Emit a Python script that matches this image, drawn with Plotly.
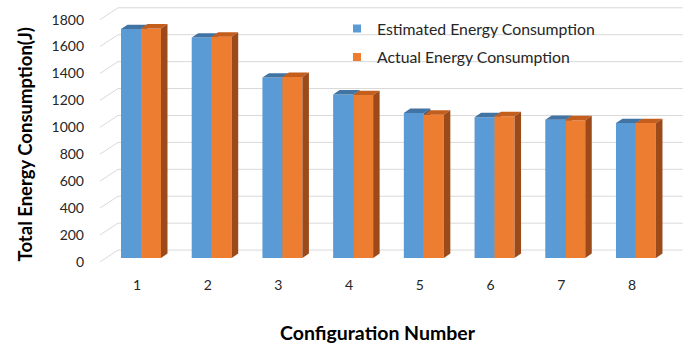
import plotly.graph_objects as go

# ---- data -------------------------------------------------------------
configs = ["1", "2", "3", "4", "5", "6", "7", "8"]
estimated = [1700, 1637, 1340, 1215, 1077, 1045, 1026, 1002]
actual = [1705, 1644, 1345, 1210, 1064, 1053, 1023, 1002]
y_ticks = [0, 200, 400, 600, 800, 1000, 1200, 1400, 1600, 1800]

series_names = ["Estimated Energy Consumption", "Actual Energy Consumption"]

# ---- page geometry (pixels) ----------------------------------------------
W, H = 691, 346
PX_LEFT, PX_RIGHT = 95, 690          # horizontal extent of the plotting plane
PY_TOP, PY_BOTTOM = 1, 268           # vertical extent of the plotting plane
FIRST_CENTER, PITCH = 141, 70.71     # pixel centre of group 1, spacing of groups
Y_ZERO_PX = 262.5                    # pixel row of value 0 on the bar plane
UNITS_PER_PX = 7.3                   # value units per vertical pixel

# pseudo-3D depth: bar thickness, and wall / floor offsets of the gridlines
BAR_PX = 20
DEPTH_DX_PX, DEPTH_DY_PX = 6.5, 4.5
FLOOR_FRONT_X, FLOOR_FRONT_DY = 100, -4
WALL_LEFT_X, WALL_RIGHT_X, WALL_DY = 118, 682.7, 8

FONT = "Lato"

BLUE, BLUE_TOP, BLUE_SIDE = "#5B9BD5", "#4274A3", "#38628A"
ORANGE, ORANGE_TOP, ORANGE_SIDE = "#ED7D31", "#C45E1C", "#9C4A1A"


def px_to_x(px):
    return 1 + (px - FIRST_CENTER) / PITCH


def dpx_to_y(dpx):
    return dpx * UNITS_PER_PX


x_range = [px_to_x(PX_LEFT), px_to_x(PX_RIGHT)]
y_range = [-dpx_to_y(PY_BOTTOM - Y_ZERO_PX), dpx_to_y(Y_ZERO_PX - PY_TOP)]
x_domain = [PX_LEFT / W, PX_RIGHT / W]
y_domain = [1 - PY_BOTTOM / H, 1 - PY_TOP / H]

bar_w = BAR_PX / PITCH
dx = DEPTH_DX_PX / PITCH
dy = dpx_to_y(DEPTH_DY_PX)
positions = [i + 1 for i in range(len(configs))]


def faces(values, offset):
    """Polygons for the top and right-hand faces of each bar."""
    tx, ty, sx, sy = [], [], [], []
    for c, v in zip(positions, values):
        xl = c + offset
        xr = xl + bar_w
        tx += [xl, xl + dx, xr + dx, xr, xl, None]
        ty += [v, v + dy, v + dy, v, v, None]
        sx += [xr, xr + dx, xr + dx, xr, xr, None]
        sy += [0, dy, v + dy, v, 0, None]
    return tx, ty, sx, sy


fig = go.Figure()

layers = [
    (estimated, -bar_w, "y", BLUE, BLUE_TOP, BLUE_SIDE),
    (actual, 0.0, "y2", ORANGE, ORANGE_TOP, ORANGE_SIDE),
]
for values, offset, yref, front, top, side in layers:
    fig.add_trace(go.Bar(
        x=positions, y=values, width=bar_w, offset=offset,
        marker=dict(color=front, line=dict(width=0)),
        yaxis=yref, showlegend=False, hoverinfo="skip",
    ))
    tx, ty, sx, sy = faces(values, offset)
    fig.add_trace(go.Scatter(x=tx, y=ty, fill="toself", fillcolor=top,
                             mode="none", yaxis=yref, showlegend=False,
                             hoverinfo="skip"))
    fig.add_trace(go.Scatter(x=sx, y=sy, fill="toself", fillcolor=side,
                             mode="none", yaxis=yref, showlegend=False,
                             hoverinfo="skip"))

# legend keys
for name, color in zip(series_names, [BLUE, ORANGE]):
    fig.add_trace(go.Scatter(
        x=[None], y=[None], mode="markers", name=name, legendgroup=name,
        marker=dict(symbol="square", size=8, color=color),
    ))

# back-wall gridlines with their slanted floor segments
for v in y_ticks:
    x0, y0 = px_to_x(FLOOR_FRONT_X), v + dpx_to_y(FLOOR_FRONT_DY)
    x1, y1 = px_to_x(WALL_LEFT_X), v + dpx_to_y(WALL_DY)
    x2 = px_to_x(WALL_RIGHT_X)
    fig.add_shape(type="path", xref="x", yref="y", layer="below",
                  path=f"M {x0},{y0} L {x1},{y1} L {x2},{y1}",
                  line=dict(color="#D9D9D9", width=1))

fig.add_annotation(text="<b>Total Energy Consumption(J)</b>", textangle=-90,
                   x=25 / W, y=1 - 147 / H, xref="paper", yref="paper",
                   xanchor="center", yanchor="middle",
                   showarrow=False, font=dict(family=FONT, size=18.5, color="#000000"))
fig.add_annotation(text="<b>Configuration Number</b>",
                   x=378 / W, y=1 - 338 / H, xref="paper", yref="paper",
                   xanchor="center", yanchor="middle",
                   showarrow=False, font=dict(family=FONT, size=19.5, color="#000000"))

tick_font = dict(family=FONT, size=14, color="#262626")
fig.update_layout(
    width=W, height=H,
    margin=dict(l=0, r=0, t=0, b=0),
    paper_bgcolor="white", plot_bgcolor="rgba(0,0,0,0)",
    barmode="overlay",
    font=dict(family=FONT),
    xaxis=dict(domain=x_domain, range=x_range, tickvals=positions, ticktext=configs,
               showgrid=False, zeroline=False, showline=False, ticks="",
               tickfont=tick_font, ticklabelstandoff=12, ticklabelshift=-4),
    yaxis=dict(domain=y_domain, range=y_range, tickvals=y_ticks,
               showgrid=False, zeroline=False, showline=False, ticks="",
               tickfont=tick_font, ticklabelstandoff=10, ticklabelshift=4),
    yaxis2=dict(domain=y_domain, range=y_range, overlaying="y", visible=False),
    legend=dict(x=337 / W, y=1 - 12 / H, xanchor="left", yanchor="top",
                bgcolor="rgba(0,0,0,0)", tracegroupgap=5, traceorder="grouped",
                font=dict(family=FONT, size=15.8, color="#262626"), itemwidth=30),
)

fig.write_html("out.html")
